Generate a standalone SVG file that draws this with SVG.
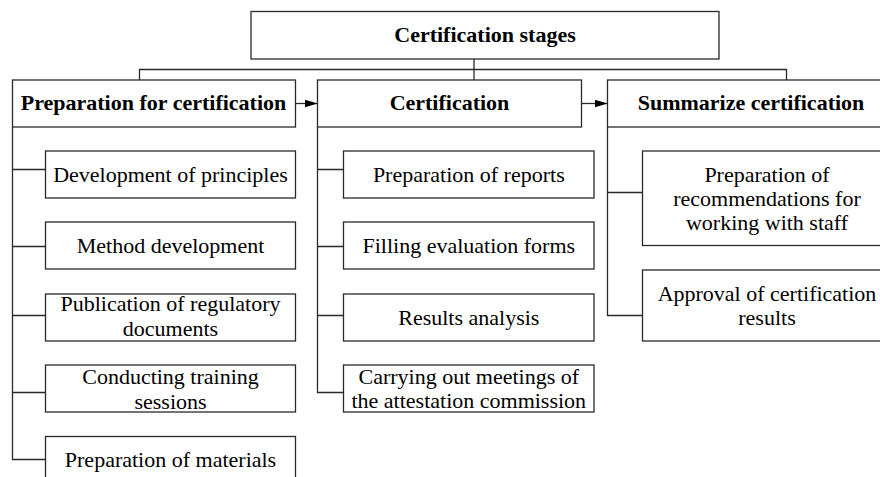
<svg xmlns="http://www.w3.org/2000/svg" width="880" height="477" viewBox="0 0 880 477">
<style>
  .box { fill: #ffffff; stroke: #2a2a2a; stroke-width: 1.3; }
  .ln { fill: none; stroke: #2a2a2a; stroke-width: 1.3; }
  .t { font-family: 'Liberation Serif', 'Times New Roman', 'DejaVu Serif', serif; font-size: 22px; fill: #000; text-anchor: middle; }
  .b { font-weight: bold; }
</style>
<defs>
  <marker id="arr" markerWidth="14" markerHeight="10" refX="13" refY="5" orient="auto" markerUnits="userSpaceOnUse">
    <path d="M0,1 L13,5 L0,9 Z" fill="#000"/>
  </marker>
</defs>
<rect width="880" height="477" fill="#ffffff"/>

<g id="connectors">
  <path class="ln" d="M139.5,80 V69.5 H786.5 V80"/>
  <path class="ln" d="M474,59 V80"/>
  <path class="ln" d="M295.5,103.5 H317.5" marker-end="url(#arr)"/>
  <path class="ln" d="M581.5,103.5 H607.5" marker-end="url(#arr)"/>
  <path class="ln" d="M12.5,127 V459.5 H45.5 M12.5,169.5 H45.5 M12.5,246.5 H45.5 M12.5,315.5 H45.5 M12.5,392.5 H45.5"/>
  <path class="ln" d="M317.5,127 V392.5 H343.5 M317.5,169.5 H343.5 M317.5,246.5 H343.5 M317.5,315.5 H343.5"/>
  <path class="ln" d="M607.5,127 V315.5 H642.5 M607.5,192.5 H642.5"/>
</g>

<g id="n-stages">
  <rect class="box" x="251" y="11.5" width="468" height="47.5"/>
  <text class="t b" x="485" y="41.5">Certification stages</text>
</g>

<g id="n-prep">
  <rect class="box" x="12.5" y="80" width="283" height="47"/>
  <text class="t b" x="153.5" y="109.5">Preparation for certification</text>
</g>
<g id="n-cert">
  <rect class="box" x="317.5" y="80" width="264" height="47"/>
  <text class="t b" x="449.5" y="109.5">Certification</text>
</g>
<g id="n-summ">
  <rect class="box" x="607.5" y="80" width="287" height="47"/>
  <text class="t b" x="751" y="109.5">Summarize certification</text>
</g>

<g id="n-p1">
  <rect class="box" x="45.5" y="151" width="250" height="47"/>
  <text class="t" x="170.5" y="181.5">Development of principles</text>
</g>
<g id="n-p2">
  <rect class="box" x="45.5" y="222" width="250" height="47"/>
  <text class="t" x="170.5" y="253">Method development</text>
</g>
<g id="n-p3">
  <rect class="box" x="45.5" y="294" width="250" height="47"/>
  <text class="t" x="170.5" y="311">Publication of regulatory</text>
  <text class="t" x="170.5" y="335.5">documents</text>
</g>
<g id="n-p4">
  <rect class="box" x="45.5" y="365" width="250" height="47"/>
  <text class="t" x="170.5" y="384">Conducting training</text>
  <text class="t" x="170.5" y="408.5">sessions</text>
</g>
<g id="n-p5">
  <rect class="box" x="45.5" y="436.5" width="250" height="60"/>
  <text class="t" x="170.5" y="467">Preparation of materials</text>
</g>

<g id="n-c1">
  <rect class="box" x="343.5" y="151" width="250.5" height="47"/>
  <text class="t" x="468.8" y="181.5">Preparation of reports</text>
</g>
<g id="n-c2">
  <rect class="box" x="343.5" y="222" width="250.5" height="47"/>
  <text class="t" x="468.8" y="253">Filling evaluation forms</text>
</g>
<g id="n-c3">
  <rect class="box" x="343.5" y="294" width="250.5" height="47"/>
  <text class="t" x="468.8" y="324.5">Results analysis</text>
</g>
<g id="n-c4">
  <rect class="box" x="343.5" y="365" width="250.5" height="47"/>
  <text class="t" x="468.8" y="383.5">Carrying out meetings of</text>
  <text class="t" x="468.8" y="407.5">the attestation commission</text>
</g>

<g id="n-s1">
  <rect class="box" x="642.5" y="151" width="250.5" height="94.5"/>
  <text class="t" x="767" y="181.5">Preparation of</text>
  <text class="t" x="767" y="205.5">recommendations for</text>
  <text class="t" x="767" y="229.5">working with staff</text>
</g>
<g id="n-s2">
  <rect class="box" x="642.5" y="270" width="250.5" height="71"/>
  <text class="t" x="767" y="300.5">Approval of certification</text>
  <text class="t" x="767" y="325">results</text>
</g>
</svg>
